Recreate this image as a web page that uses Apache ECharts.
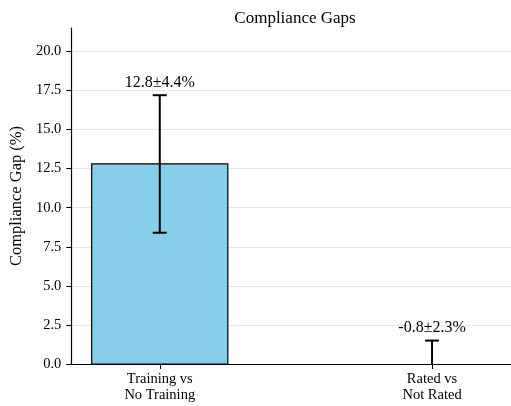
<!DOCTYPE html>
<html>
<head>
<meta charset="utf-8">
<script src="https://cdn.jsdelivr.net/npm/echarts@6/dist/echarts.min.js"></script>
<style>html,body{margin:0;padding:0;background:#fff}#c{width:511px;height:406px}</style>
</head>
<body>
<div id="c"></div>
<script>
const categories = ['Training vs\nNo Training', 'Rated vs\nNot Rated'];
const means = [12.8, -0.8];
const stds = [4.4, 2.3];
const yTicks = [0, 2.5, 5, 7.5, 10, 12.5, 15, 17.5, 20];

const FONT = '"Liberation Serif", "DejaVu Serif", serif';
const chart = echarts.init(document.getElementById('c'), null, {renderer: 'canvas'});
const pts = means.map((m, i) => [i, m, stds[i]]);

chart.setOption({
  animation: false,
  title: {
    text: 'Compliance Gaps', left: 290, top: 5, textAlign: 'center',
    textStyle: {fontFamily: FONT, fontWeight: 'normal', fontSize: 17, color: '#000'}
  },
  grid: {left: 70, right: 0, top: 28, bottom: 42},
  xAxis: {
    type: 'value', min: -0.325, max: 1.29,
    axisLine: {show: true, onZero: false, lineStyle: {color: '#000', width: 1.2}},
    axisTick: {show: true, customValues: [0, 1], length: 5, lineStyle: {color: '#000', width: 1}},
    axisLabel: {customValues: [0, 1], formatter: v => categories[Math.round(v)] || '',
      fontFamily: FONT, fontSize: 14.5, color: '#000', lineHeight: 16, margin: 7},
    splitLine: {show: false}
  },
  yAxis: {
    type: 'value', min: 0, max: 21.5,
    name: 'Compliance Gap (%)', nameLocation: 'middle', nameGap: 36, nameRotate: 90,
    nameTextStyle: {fontFamily: FONT, fontSize: 16.5, color: '#000'},
    axisLine: {show: true, onZero: false, lineStyle: {color: '#000', width: 1.2}},
    axisTick: {show: true, customValues: yTicks, length: 5, lineStyle: {color: '#000', width: 1}},
    axisLabel: {customValues: yTicks, formatter: v => v.toFixed(1),
      fontFamily: FONT, fontSize: 14.5, color: '#000', margin: 10},
    splitLine: {show: true, lineStyle: {color: '#e8e8e8', width: 1}}
  },
  series: [{
    type: 'custom',
    data: pts,
    clip: true,
    renderItem: function (params, api) {
      const cs = params.coordSys;
      const x = api.value(0), m = api.value(1), s = api.value(2);
      const yBottom = cs.y + cs.height, yTop = cs.y;
      const cl = y => Math.max(yTop, Math.min(yBottom, y));
      const pL = api.coord([x - 0.25, 0]);
      const pR = api.coord([x + 0.25, m]);
      const y0 = cl(pL[1]), y1 = cl(pR[1]);
      const children = [];
      if (Math.abs(y1 - y0) > 0.5 && m > 0) {
        children.push({type: 'rect', shape: {x: pL[0], y: Math.min(y0, y1), width: pR[0] - pL[0], height: Math.abs(y1 - y0)},
          style: {fill: '#87CEEB', stroke: '#000', lineWidth: 1.2}});
      }
      const c = api.coord([x, m + s]);
      const d = api.coord([x, m - s]);
      const eTop = cl(c[1]), eBot = cl(d[1]);
      const cx = c[0];
      children.push({type: 'line', shape: {x1: cx, y1: eTop, x2: cx, y2: eBot}, style: {stroke: '#000', lineWidth: 2}});
      if (c[1] >= yTop && c[1] <= yBottom)
        children.push({type: 'line', shape: {x1: cx - 7, y1: c[1], x2: cx + 7, y2: c[1]}, style: {stroke: '#000', lineWidth: 2}});
      if (d[1] >= yTop && d[1] <= yBottom)
        children.push({type: 'line', shape: {x1: cx - 7, y1: d[1], x2: cx + 7, y2: d[1]}, style: {stroke: '#000', lineWidth: 2}});
      const t = api.coord([x, m + s + 0.3]);
      children.push({type: 'text', x: t[0], y: t[1], style: {text: m.toFixed(1) + '±' + s.toFixed(1) + '%',
        fill: '#000', font: '16px ' + FONT, textAlign: 'center', textVerticalAlign: 'bottom'}});
      return {type: 'group', children: children};
    }
  }]
});
</script>
</body>
</html>
